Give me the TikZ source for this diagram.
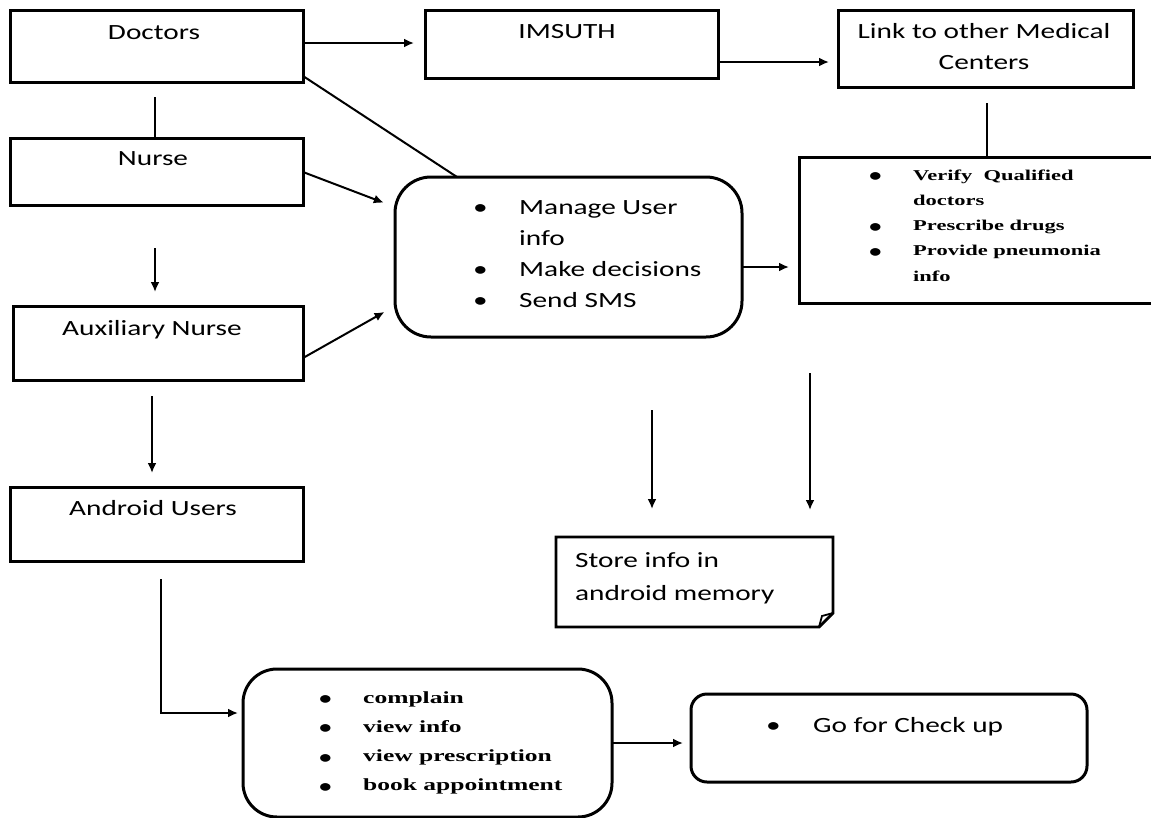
\documentclass[tikz,border=0pt]{standalone}
\usepackage{fontspec}
\setmainfont{Carlito}[FakeStretch=1.35]
\newfontfamily\listserif{Liberation Serif}[FakeStretch=1.5]
\newfontfamily\bulfont{Carlito}[FakeStretch=1.35]
\usetikzlibrary{arrows.meta}
\newcommand{\sanstext}{\fontsize{21.7}{31}\selectfont}
\newcommand{\smallserif}{\listserif\bfseries\fontsize{15}{25.3}\selectfont}
\newcommand{\midserif}{\listserif\bfseries\fontsize{17}{29.3}\selectfont}
\newcommand{\bul}{\raisebox{-2.5pt}{\bulfont\mdseries\fontsize{21.7}{20}\selectfont •}}

\begin{document}
\begin{tikzpicture}[x=1pt,y=-1pt,
  box/.style={draw, line width=3pt, inner sep=0pt, outer sep=0pt, anchor=north west},
  rbox/.style={box, rounded corners=#1},
  lab/.style={font=\sanstext, inner sep=0pt, anchor=base},
  list/.style={inner sep=0pt, anchor=base west, align=left},
  conn/.style={line width=2pt},
  arr/.style={conn, -{Latex[length=10pt,width=9pt]}, shorten >=#1},
  arr/.default=10pt]
\useasboundingbox (0,0) rectangle (1151,817);
\clip (0,0) rectangle (1151,817);

% boxes
\node[box, minimum width=293pt, minimum height=72pt] (doc) at (10,10) {};
\node[box, minimum width=293pt, minimum height=67pt] (nur) at (10,138) {};
\node[box, minimum width=290pt, minimum height=74pt] (aux) at (13,306) {};
\node[box, minimum width=293pt, minimum height=74pt] (and) at (10,487) {};
\node[box, minimum width=293pt, minimum height=68pt] (ims) at (425,10) {};
\node[box, minimum width=295pt, minimum height=77pt] (lnk) at (838,10) {};
\node[rbox=36pt, minimum width=347pt, minimum height=160pt] (man) at (395,177) {};
\node[box, minimum width=370pt, minimum height=146pt] (ver) at (799,157) {};
\node[rbox=34pt, minimum width=369pt, minimum height=148pt] (usr) at (243,669) {};
\node[rbox=16pt, minimum width=396pt, minimum height=88pt] (go) at (691,694) {};
\node[inner sep=0pt, outer sep=0pt, minimum width=277pt, minimum height=90pt, anchor=north west] (sto) at (556,537) {};
\draw[line width=2.8pt] (sto.north west) -- (sto.north east) -- ([yshift=14pt]sto.south east)
  -- ([xshift=-14pt]sto.south east) -- (sto.south west) -- cycle;
\draw[line width=1.8pt] ([xshift=-14pt]sto.south east) -- ([xshift=-11pt,yshift=11pt]sto.south east)
  -- ([yshift=14pt]sto.south east);

% texts
\node[lab] (docT) at (154,39) {Doctors};
\node[lab] (nurT) at (153,165) {Nurse};
\node[lab] (auxT) at (152,335) {Auxiliary Nurse};
\node[lab] (andT) at (153,515) {Android Users};
\node[lab] (imsT) at (567,38) {IMSUTH};
\node[lab] (lnkT1) at (984,38) {Link to other Medical};
\node[lab] (lnkT2) at (984,69) {Centers};
\node[list, font=\sanstext] (manT) at (473,214) {\begin{tabular}[t]{@{}p{46pt}@{}l@{}}
  •&Manage User\\ &info\\ •&Make decisions\\ •&Send SMS\end{tabular}};
\node[list, font=\smallserif] (verT) at (868,180) {\begin{tabular}[t]{@{}p{45pt}@{}l@{}}
  \bul&Verify~ Qualified\\ &doctors\\ \bul&Prescribe drugs\\ \bul&Provide pneumonia\\ &info\end{tabular}};
\node[list, font=\midserif] (usrT) at (318,703) {\begin{tabular}[t]{@{}p{45pt}@{}l@{}}
  \bul&complain\\ \bul&view info\\ \bul&view prescription\\ \bul&book appointment\end{tabular}};
\node[list, font=\sanstext] (goT) at (766,732) {\begin{tabular}[t]{@{}p{47pt}@{}l@{}}
  •&Go for Check up\end{tabular}};
\node[list, font=\fontsize{21.7}{33}\selectfont] (stoT) at (575,567) {\begin{tabular}[t]{@{}l@{}}
  Store info in\\ android memory\end{tabular}};

% connectors
\coordinate (dn) at (155,97);
\draw[conn] (dn) -- (dn |- nur.north);
\draw[arr=11pt] (doc.east |- 0,43) -- (ims.west |- 0,43);
\draw[arr=9pt] (ims.east |- 0,62) -- (lnk.west |- 0,62);
\coordinate (lv) at (987,103);
\draw[conn] (lv) -- (lv |- ver.north);
\draw[conn] ([yshift=6pt]doc.south east) -- ([xshift=62pt]man.north west);
\draw[arr=12pt] ([yshift=-34pt]nur.north east) -- ([yshift=-30pt]man.north west);
\draw[arr=12pt] ([yshift=-52pt]aux.north east) -- ([yshift=-129pt]man.north west);
\draw[arr=10pt] (man.east |- 0,267) -- (ver.west |- 0,267);
\coordinate (na) at (155,248);
\draw[arr=14pt] (na) -- (na |- aux.north);
\coordinate (aa) at (152,396);
\draw[arr=14pt] (aa) -- (aa |- and.north);
\coordinate (au) at (161,579);
\draw[arr=5pt] (au) |- (usr.west |- 0,713);
\draw[arr=8pt] (usr.east |- 0,743) -- (go.west |- 0,743);
\coordinate (f1) at (652,410);
\draw[arr=28pt] (f1) -- (f1 |- sto.north);
\coordinate (f2) at (810,373);
\draw[arr=27pt] (f2) -- (f2 |- sto.north);
\end{tikzpicture}
\end{document}
